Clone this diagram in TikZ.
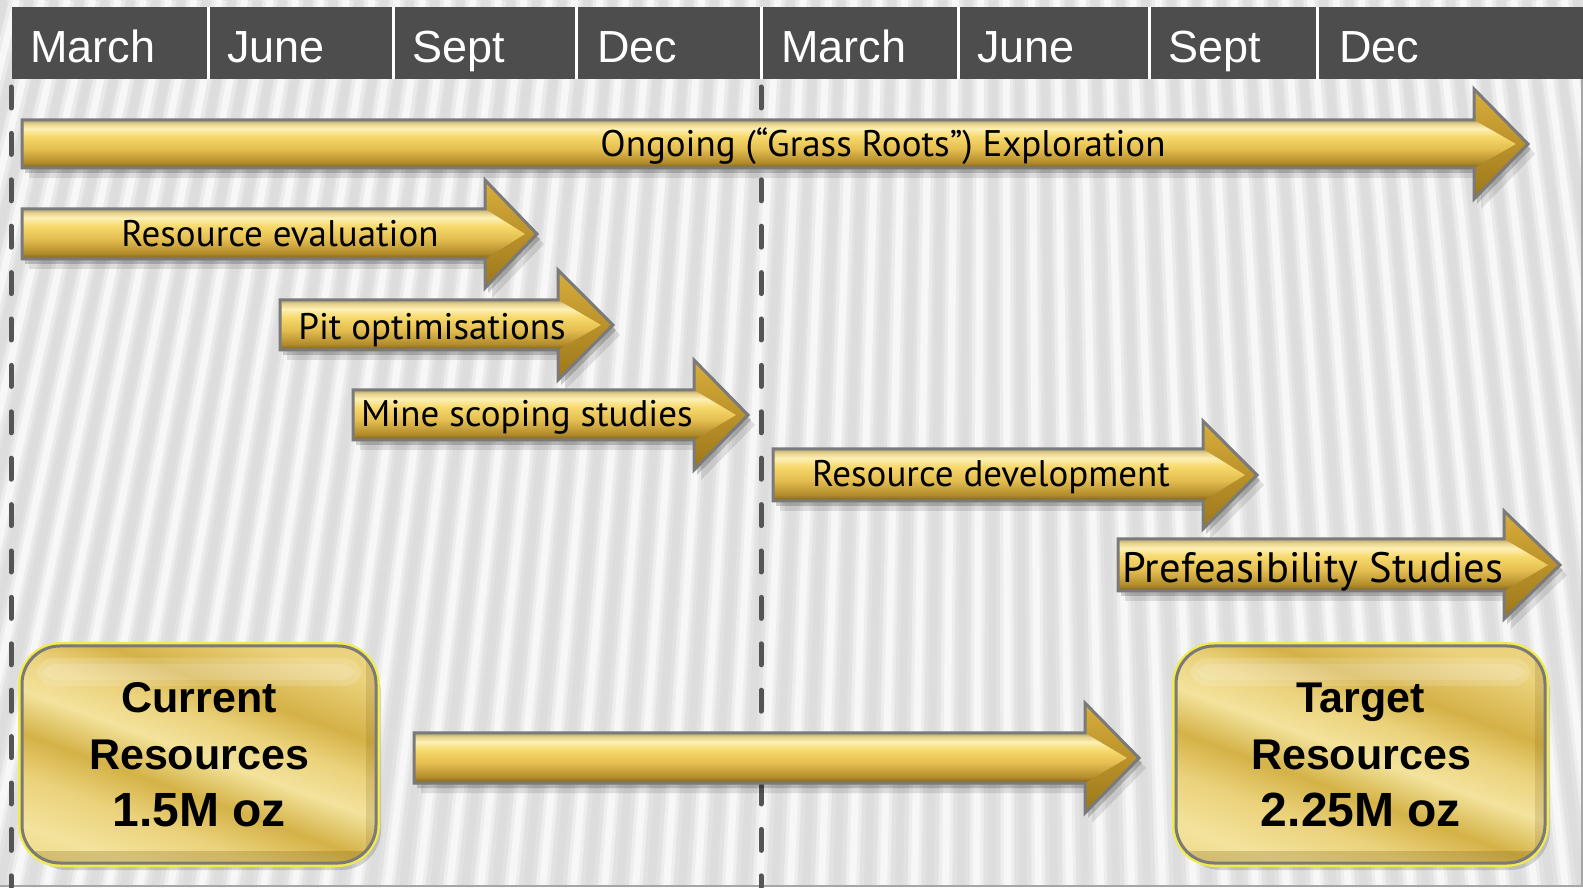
\documentclass[tikz,border=0pt]{standalone}
\usepackage{fontspec}
\setmainfont{Liberation Sans}
\newfontfamily\labfont{PT Sans}
\usetikzlibrary{calc}
\definecolor{hdr}{HTML}{4D4D4D}
\definecolor{bgbase}{HTML}{E6E6E6}
\definecolor{stripe}{HTML}{BDBDBD}
\definecolor{edge}{HTML}{7A7A7A}
\definecolor{dashc}{HTML}{555555}
\definecolor{glow}{HTML}{F2EC4A}
\definecolor{gbot}{HTML}{7E6018}
\definecolor{gtwo}{HTML}{B38C2C}
\definecolor{gthree}{HTML}{E4BE50}
\definecolor{gfour}{HTML}{F7D96C}
\definecolor{gfive}{HTML}{FDF0B6}
\definecolor{gsix}{HTML}{E9D48E}
\definecolor{gtop}{HTML}{B5A572}
\definecolor{hlight}{HTML}{F4D670}
\definecolor{hmid}{HTML}{D9AE3C}
\definecolor{hdark}{HTML}{9C7619}
\definecolor{bone}{HTML}{DDBE55}
\definecolor{btwo}{HTML}{F3E39C}
\definecolor{bthree}{HTML}{D4B247}
\definecolor{bfour}{HTML}{EBD27C}
\pgfdeclareverticalshading{goldbar}{100bp}{color(0bp)=(gbot); color(25bp)=(gbot); color(31bp)=(gtwo); color(45bp)=(gthree); color(58bp)=(gfour); color(66bp)=(gfive); color(71bp)=(gsix); color(75bp)=(gtop); color(100bp)=(gtop)}
\pgfdeclarehorizontalshading{goldstreak}{100bp}{color(0bp)=(bone); color(25bp)=(btwo); color(34bp)=(bfour); color(42bp)=(bthree); color(50bp)=(btwo); color(57bp)=(bfour); color(64bp)=(bthree); color(75bp)=(bfour); color(100bp)=(bfour)}
\tikzset{
  lab/.style={font=\labfont\fontsize{37}{40}\selectfont, text=black, inner sep=0pt, anchor=base},
  biglab/.style={font=\labfont\fontsize{42.5}{46}\selectfont, text=black, inner sep=0pt, anchor=base},
  month/.style={font=\fontsize{45}{50}\selectfont, text=white, inner sep=0pt, anchor=base west},
  boxtext/.style={font=\bfseries\fontsize{43}{57}\selectfont, text=black, inner sep=0pt, align=center},
  dashline/.style={dashc, line width=5pt, line cap=round, dash pattern=on 21pt off 25.4pt}
}
\newcommand\garrow[6]{%
  \def\ashape{(#1,#4+#5) -- (#2,#4+#5) -- (#2,#4+#6) -- (#3,#4) -- (#2,#4-#6) -- (#2,#4-#5) -- (#1,#4-#5) -- cycle}%
  \fill[black, opacity=.10, shift={(7,-10)}] \ashape;
  \fill[black, opacity=.18, shift={(3,-5)}] \ashape;
  \shade[top color=hmid, middle color=hlight, bottom color=hdark] (#2,#4+#6) -- (#3,#4) -- (#2,#4-#6) -- cycle;
  \shade[shading=goldbar] (#1,#4+#5) -- (#2,#4+#5) -- (#3-12,#4) -- (#2,#4-#5) -- (#1,#4-#5) -- cycle;
  \draw[edge, line width=3pt, line join=miter] \ashape;
}
\newcommand\goldbox[4]{%
  \fill[black, opacity=.15, rounded corners=40pt] (#1+5,#2-7) rectangle (#3+5,#4-7);
  \draw[glow, line width=3pt, rounded corners=41pt] (#1-2.5,#2-2.5) rectangle (#3+2.5,#4+2.5);
  \shade[shading=goldstreak, shading angle=70, rounded corners=38pt] (#1,#2) rectangle (#3,#4);
  \begin{scope}
    \clip[rounded corners=38pt] (#1,#2) rectangle (#3,#4);
    \fill[white, opacity=.16, rounded corners=18pt] (#1+14,#4-40) rectangle (#3-14,#4-12);
    \fill[white, opacity=.14, rounded corners=14pt] (#1+20,#4-34) rectangle (#3-20,#4-18);
    \fill[gbot, opacity=.25] (#1,#2) rectangle (#3,#2+12);
    \fill[gbot, opacity=.18] (#3-10,#2) rectangle (#3,#4);
  \end{scope}
  \draw[edge, line width=3pt, rounded corners=38pt] (#1,#2) rectangle (#3,#4);
}
\begin{document}
\begin{tikzpicture}[x=1pt,y=1pt]
\useasboundingbox (0,0) rectangle (1583,887);
% background
\begin{scope}
  \clip (0,0) rectangle (1583,887);
  \fill[bgbase] (0,0) rectangle (1583,887);
  \foreach \i in {-10,...,62} {
    \pgfmathsetmacro{\xb}{\i*31}
    \pgfmathsetmacro{\xt}{\xb+(1000-\xb)*0.1815}
    \draw[stripe, line width=18pt, opacity=.08] (\xb,0) -- (\xt,887);
    \draw[stripe, line width=8pt, opacity=.12] (\xb,0) -- (\xt,887);
    \draw[white, line width=14pt, opacity=.35] (\xb+15.5,0) -- (\xt+12.7,887);
    \draw[white, line width=7pt, opacity=.55] (\xb+15.5,0) -- (\xt+12.7,887);
  }
  \draw[gray!70, line width=1.5pt] (0,1) -- (1583,1);
  \draw[gray!70, line width=1.5pt] (1582,0) -- (1582,808);
\end{scope}
% header
\fill[white] (12,808) rectangle (1583,880);
\foreach \a/\b in {12/207, 210/392, 395/575, 578/760, 763/957, 960/1148, 1151/1316, 1319/1583}
  \fill[hdr] (\a,808) rectangle (\b,880);
\node[month] (m1) at (30,824) {March};
\node[month] (m2) at (227,824) {June};
\node[month] (m3) at (412,824) {Sept};
\node[month] (m4) at (597,824) {Dec};
\node[month] (m5) at (781,824) {March};
\node[month] (m6) at (977,824) {June};
\node[month] (m7) at (1168,824) {Sept};
\node[month] (m8) at (1339,824) {Dec};
% dashed year dividers
\coordinate (d1t) at (11,800);
\coordinate (d1b) at (11,0);
\coordinate (d2t) at (761,800);
\coordinate (d2b) at (761,0);
\draw[dashline] (d1t) -- (d1b);
\draw[dashline] (d2t) -- (d2b);
% arrows
\garrow{22}{1474}{1528}{743}{24}{55}
\node[lab] (t1) at (883,730) {Ongoing (“Grass Roots”) Exploration};
\garrow{22}{485}{537}{653}{25}{54}
\node[lab] (t2) at (280,640) {Resource evaluation};
\garrow{280}{558}{613}{562}{25}{55}
\node[lab] (t3) at (432,547) {Pit optimisations};
\garrow{353}{694}{748}{472}{25}{55}
\node[lab] (t4) at (527,460) {Mine scoping studies};
\garrow{773}{1203}{1257}{412}{26}{54}
\node[lab] (t5) at (991,400) {Resource development};
\garrow{1118}{1504}{1560}{322}{26}{54}
\node[biglab] (t6) at (1313,304) {Prefeasibility Studies};
\garrow{414}{1085}{1139}{129}{25}{55}
% resource boxes
\goldbox{22}{24}{376}{241}
\node[boxtext] (cur) at (199,132.5) {Current\\Resources\\{\fontsize{48}{57}\selectfont 1.5M oz}};
\goldbox{1176}{24}{1545}{241}
\node[boxtext] (tgt) at (1361,132.5) {Target\\Resources\\{\fontsize{48}{57}\selectfont 2.25M oz}};
\end{tikzpicture}
\end{document}
